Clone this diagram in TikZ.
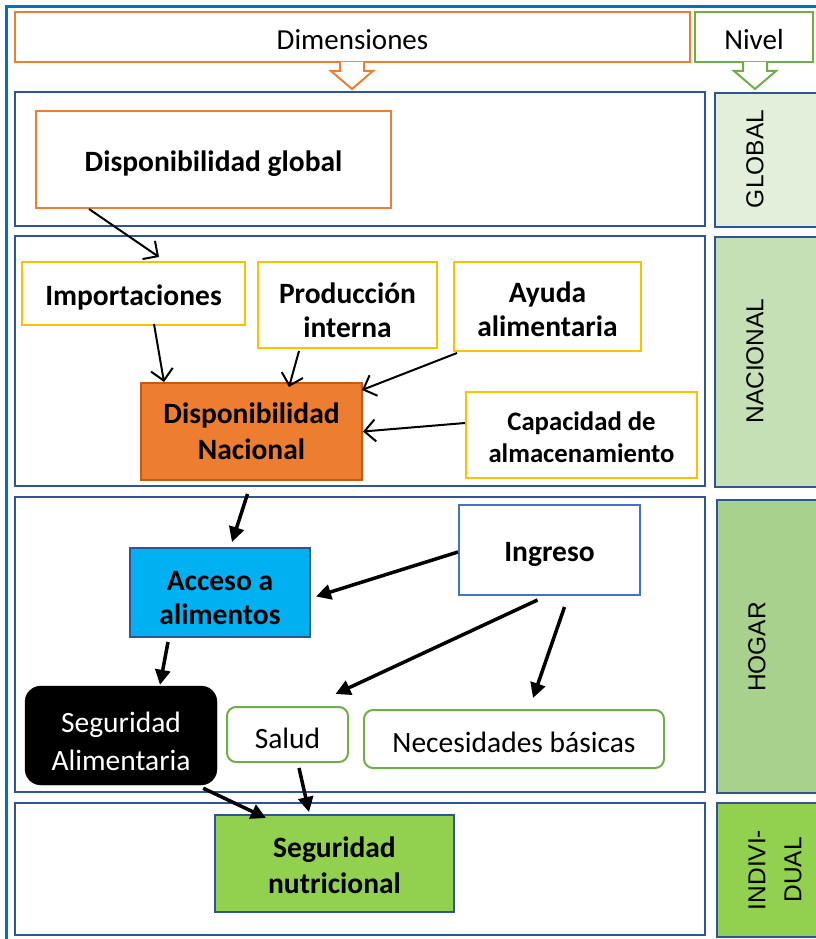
\documentclass[tikz,border=0pt]{standalone}
\usepackage{fontspec}
\setmainfont{Carlito}
\newfontfamily\lvlfont{Liberation Sans}
\usepackage{xcolor}
\usetikzlibrary{arrows.meta}
\definecolor{marco}{HTML}{0070C0}
\definecolor{azul}{HTML}{2F5597}
\definecolor{azulclaro}{HTML}{4472C4}
\definecolor{naranja}{HTML}{ED7D31}
\definecolor{naranjaosc}{HTML}{C55A11}
\definecolor{oro}{HTML}{FFC000}
\definecolor{verde}{HTML}{70AD47}
\definecolor{celeste}{HTML}{00B0F0}
\definecolor{nglobal}{HTML}{E2EFDA}
\definecolor{nnacional}{HTML}{C5E0B4}
\definecolor{nhogar}{HTML}{A9D18E}
\definecolor{nindiv}{HTML}{92D050}

\begin{document}
\begin{tikzpicture}[x=1pt, y=-1pt,
    fila/.style={draw=azul, line width=2.5pt},
    caja/.style={draw, line width=2pt, inner sep=0pt, align=center, text height=28pt,
      font=\bfseries\fontsize{29.5}{34}\selectfont},
    suave/.style={draw=verde, line width=2pt, rounded corners=9pt, inner sep=0pt,
      align=center, text height=28pt, font=\fontsize{29.5}{34}\selectfont},
    nivel/.style={rotate=90, align=center, font=\lvlfont\fontsize{24.5}{36}\selectfont},
    fina/.style={line width=2pt, -{Straight Barb[length=11pt,width=22pt]}},
    gruesa/.style={line width=3.5pt, -{Triangle[length=15pt,width=15pt]}}]
  \useasboundingbox (0,0) rectangle (815,939);

  % cabecera
  \node[draw=naranja, line width=2pt, minimum width=675, minimum height=50, text height=26pt,
    inner sep=0pt, font=\fontsize{29}{34}\selectfont] (dim) at (352.5,37) {Dimensiones};
  \node[draw=verde, line width=2pt, minimum width=118, minimum height=50, text height=26pt,
    inner sep=0pt, font=\fontsize{29}{34}\selectfont] (niv) at (754,37) {Nivel};
  \draw[naranja, line width=2pt, fill=white] (340,62) -- (340,71) -- (331,71) -- (352,89)
    -- (373,71) -- (364,71) -- (364,62);
  \draw[verde, line width=2pt, fill=white] (743,62) -- (743,71) -- (734,71) -- (755,89)
    -- (776,71) -- (767,71) -- (767,62);

  % filas
  \draw[fila] (15,92) rectangle (705,226);
  \draw[fila] (15,236) rectangle (705,486);
  \draw[fila] (15,497) rectangle (705,792);
  \draw[fila] (15,803) rectangle (705,935);
  \draw[fila, fill=nglobal] (715,93) rectangle (830,227);
  \draw[fila, fill=nnacional] (715,237) rectangle (830,487);
  \draw[fila, fill=nhogar] (717,500) rectangle (830,793);
  \draw[fila, fill=nindiv] (717,803) rectangle (830,937);
  \node[nivel] (lglob) at (755,159) {GLOBAL};
  \node[nivel] (lnac) at (755,361) {NACIONAL};
  \node[nivel] (lhog) at (757,647) {HOGAR};
  \node[nivel] (lind) at (775,870) {INDIVI-\\DUAL};

  % nodos
  \node[caja, draw=naranja, minimum width=355, minimum height=97] (dglob) at (213.5,159.5) {Disponibilidad global};
  \node[caja, draw=oro, minimum width=223, minimum height=63] (impo) at (133.5,293.5) {Importaciones};
  \node[caja, draw=oro, minimum width=179, minimum height=86, text height=65pt] (prod) at (347.5,305) {Producción\\interna};
  \node[caja, draw=oro, minimum width=187, minimum height=89, text height=61pt] (ayuda) at (547.5,306.5) {Ayuda\\alimentaria};
  \node[caja, draw=naranjaosc, fill=naranja, minimum width=221, minimum height=97, text height=57pt,
    font=\bfseries\fontsize{29.5}{36}\selectfont] (dnac) at (251.5,431.5) {Disponibilidad\\Nacional};
  \node[caja, draw=oro, minimum width=231, minimum height=86, text height=55pt,
    font=\bfseries\fontsize{26.7}{32}\selectfont] (capac) at (581.5,435) {Capacidad de\\almacenamiento};
  \node[caja, draw=azulclaro, minimum width=181, minimum height=90] (ingr) at (549.5,550) {Ingreso};
  \node[caja, draw=azul, fill=celeste, minimum width=180, minimum height=89, text height=65pt] (acceso) at (220,592.5) {Acceso a\\alimentos};
  \node[draw, fill=black, text=white, rounded corners=16pt, inner sep=0pt, align=center, text height=71pt,
    minimum width=192, minimum height=99, font=\fontsize{29.5}{38}\selectfont] (segal) at (121,735.5) {Seguridad\\Alimentaria};
  \node[suave, minimum width=121, minimum height=55] (salud) at (287.5,734.5) {Salud};
  \node[suave, minimum width=300, minimum height=58] (neces) at (514,739) {Necesidades básicas};
  \node[caja, draw=azul, fill=nindiv, minimum width=239, minimum height=97, text height=61pt,
    font=\bfseries\fontsize{29.5}{36}\selectfont] (segnut) at (334.5,863.5) {Seguridad\\nutricional};

  % conexiones
  \draw[fina] ([xshift=54pt]dglob.south west) -- ([xshift=138pt,yshift=4pt]impo.north west);
  \draw[fina] ([xshift=133pt,yshift=2pt]impo.south west) -- ([xshift=24pt]dnac.north west);
  \draw[fina] ([xshift=42pt,yshift=-2pt]prod.south west) -- ([xshift=149pt,yshift=-5pt]dnac.north west);
  \draw[fina] ([xshift=4pt,yshift=-1pt]ayuda.south west) -- ([xshift=-1pt,yshift=-8pt]dnac.north east);
  \draw[fina] ([yshift=12pt]capac.west) -- (dnac.east);
  \draw[gruesa] ([xshift=-4pt,yshift=-13pt]dnac.south) -- ([xshift=12pt,yshift=5pt]acceso.north);
  \draw[gruesa] ([yshift=-2pt]ingr.west) -- ([xshift=5pt,yshift=-4pt]acceso.east);
  \draw[gruesa] ([xshift=-12pt,yshift=-4pt]ingr.south) -- ([xshift=48pt,yshift=12pt]salud.north);
  \draw[gruesa] ([xshift=15pt,yshift=-11pt]ingr.south) -- ([xshift=19pt,yshift=11pt]neces.north);
  \draw[gruesa] ([xshift=-52pt,yshift=-4pt]acceso.south) -- ([xshift=39pt,yshift=1pt]segal.north);
  \draw[gruesa] ([xshift=11.5pt,yshift=-5pt]salud.south) -- ([xshift=-25.5pt,yshift=2pt]segnut.north);
  \draw[gruesa] ([xshift=-14pt,yshift=-3pt]segal.south east) -- ([xshift=52pt,yshift=-4pt]segnut.north west);

  % marco exterior
  \draw[marco, line width=3pt] (6.5,6.5) rectangle (840,960);
\end{tikzpicture}
\end{document}
